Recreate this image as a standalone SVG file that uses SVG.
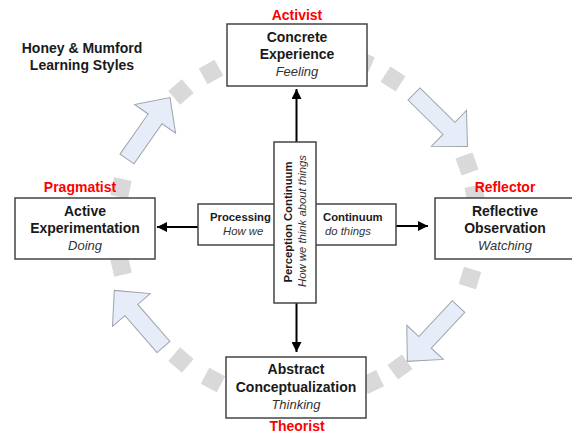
<svg xmlns="http://www.w3.org/2000/svg" width="572" height="433" viewBox="0 0 572 433">
<style>
.bx{fill:#fff;stroke:#444;stroke-width:1.5}
.t{font-family:"Liberation Sans",Arial,sans-serif;font-weight:bold;font-size:14px;fill:#1a1a1a;text-anchor:middle}
.i{font-family:"Liberation Sans",Arial,sans-serif;font-style:italic;font-size:13px;fill:#333;text-anchor:middle}
.r{font-family:"Liberation Sans",Arial,sans-serif;font-weight:bold;font-size:14px;fill:#ff0000;text-anchor:middle}
.st{font-family:"Liberation Sans",Arial,sans-serif;font-weight:bold;font-size:11.3px;fill:#1a1a1a}
.si{font-family:"Liberation Sans",Arial,sans-serif;font-style:italic;font-size:11.3px;fill:#333}
.sq{fill:#d9d9d9}
.ba{fill:#e6edf8;stroke:#9ea4ad;stroke-width:1}
.cn{stroke:#000;stroke-width:2;fill:none}
</style>
<defs>
<rect id="sq" x="-9" y="-9" width="18" height="18" class="sq"/>
<path id="big" d="M0,-8.5 H49 V-25 L75,0 L49,25 V8.5 H0 Z" class="ba"/>
<marker id="ah" viewBox="0 0 10 10" refX="10" refY="5" markerWidth="10" markerHeight="10" markerUnits="userSpaceOnUse" orient="auto">
<path d="M0,0 L10,5 L0,10 Z" fill="#000"/>
</marker>
</defs>

<g id="cycle">
<use href="#sq" transform="translate(211,72) rotate(-119)"/>
<use href="#sq" transform="translate(181,92) rotate(-131)"/>
<use href="#sq" transform="translate(121,188) rotate(-168)"/>
<use href="#sq" transform="translate(121,266) rotate(167)"/>
<use href="#sq" transform="translate(181,360) rotate(131)"/>
<use href="#sq" transform="translate(213,380) rotate(118)"/>
<use href="#sq" transform="translate(372,382) rotate(64)"/>
<use href="#sq" transform="translate(400,367) rotate(54)"/>
<use href="#sq" transform="translate(470,278) rotate(17)"/>
<use href="#sq" transform="translate(475,195) rotate(-10)"/>
<use href="#sq" transform="translate(467,164) rotate(-20)"/>
<use href="#sq" transform="translate(393,79) rotate(-57)"/>
<use href="#sq" transform="translate(363,62) rotate(-67)"/>
<use href="#big" transform="translate(127,159) rotate(-55)"/>
<use href="#big" transform="translate(414,94) rotate(44.5)"/>
<use href="#big" transform="translate(458.5,306.5) rotate(133)"/>
<use href="#big" transform="translate(163.5,347) rotate(-131)"/>
</g>

<g id="title">
<text class="t" x="82" y="53">Honey &amp; Mumford</text>
<text class="t" x="82" y="70">Learning Styles</text>
</g>

<g id="connectors">
<line class="cn" x1="296.5" y1="142" x2="296.5" y2="89" marker-end="url(#ah)"/>
<line class="cn" x1="296.5" y1="303" x2="296.5" y2="352" marker-end="url(#ah)"/>
<line class="cn" x1="198" y1="227" x2="157" y2="227" marker-end="url(#ah)"/>
<line class="cn" x1="396" y1="226" x2="428" y2="226" marker-end="url(#ah)"/>
</g>

<g id="processing">
<rect class="bx" x="198" y="204" width="198" height="41"/>
<text class="st" x="210" y="221">Processing</text>
<text class="si" x="223" y="235">How we</text>
<text class="st" x="323" y="221">Continuum</text>
<text class="si" x="325" y="235">do things</text>
</g>

<g id="perception">
<rect class="bx" x="274" y="142" width="42" height="161"/>
<text class="st" text-anchor="middle" transform="translate(292,222) rotate(-90)">Perception Continuum</text>
<text class="si" text-anchor="middle" transform="translate(305.5,221) rotate(-90)">How we think about things</text>
</g>

<g id="concrete">
<text class="r" x="297" y="20">Activist</text>
<rect class="bx" x="227" y="24" width="140" height="62"/>
<text class="t" x="297" y="42">Concrete</text>
<text class="t" x="297" y="59">Experience</text>
<text class="i" x="297" y="76">Feeling</text>
</g>

<g id="active">
<text class="r" x="80" y="192">Pragmatist</text>
<rect class="bx" x="15" y="198" width="140" height="61"/>
<text class="t" x="85" y="215.5">Active</text>
<text class="t" x="85" y="233">Experimentation</text>
<text class="i" x="85" y="250">Doing</text>
</g>

<g id="reflective">
<text class="r" x="505" y="192">Reflector</text>
<rect class="bx" x="435" y="198" width="140" height="61"/>
<text class="t" x="505" y="215.5">Reflective</text>
<text class="t" x="505" y="233">Observation</text>
<text class="i" x="505" y="250">Watching</text>
</g>

<g id="abstract">
<rect class="bx" x="226" y="357" width="140" height="61"/>
<text class="t" x="296" y="374">Abstract</text>
<text class="t" x="296" y="391.5">Conceptualization</text>
<text class="i" x="296" y="408.5">Thinking</text>
<text class="r" x="297" y="430.5">Theorist</text>
</g>
</svg>
